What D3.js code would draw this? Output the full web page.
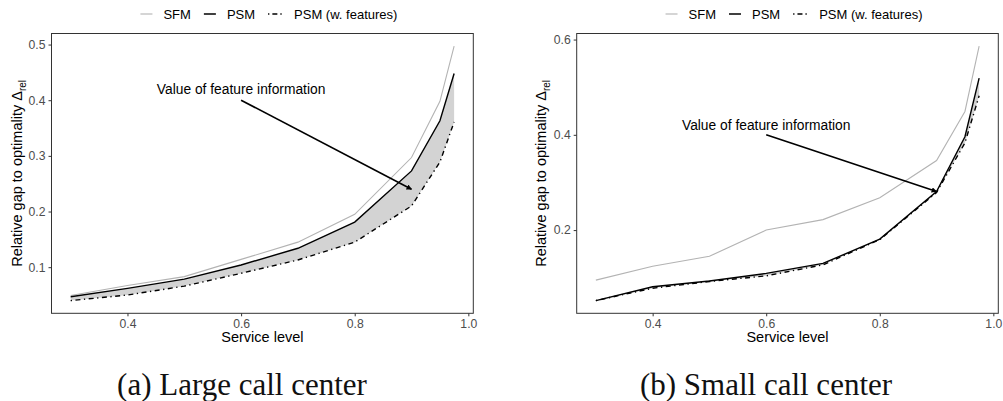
<!DOCTYPE html>
<html>
<head>
<meta charset="utf-8">
<style>
body { margin: 0; background: #fff; }
text { font-family: "Liberation Sans", Arial, sans-serif; }
.tick text { fill: #4d4d4d; font-size: 12.2px; }
.tick line { stroke: #333; }
.caption { font-family: "Liberation Serif", "Times New Roman", serif; font-size: 31px; fill: #111; }
</style>
<title>Relative gap to optimality</title>
</head>
<body>
<script src="https://cdn.jsdelivr.net/npm/d3@7"></script>
<script>

// service levels (x values) shared by both panels
const serviceLevels = [0.3, 0.4, 0.5, 0.6, 0.7, 0.8, 0.9, 0.95, 0.975];

// (a) large call center
const largeSFM     = [0.049, 0.067, 0.083, 0.114, 0.145, 0.195, 0.297, 0.398, 0.497];
const largePSM     = [0.047, 0.062, 0.0785, 0.104, 0.134, 0.181, 0.273, 0.363, 0.448];
const largePSMFeat = [0.040, 0.050, 0.066, 0.089, 0.113, 0.145, 0.210, 0.289, 0.361];

// (b) small call center
const smallSFM     = [0.095, 0.124, 0.145, 0.200, 0.222, 0.268, 0.346, 0.449, 0.586];
const smallPSM     = [0.052, 0.081, 0.093, 0.109, 0.130, 0.181, 0.281, 0.396, 0.519];
const smallPSMFeat = [0.052, 0.078, 0.092, 0.104, 0.127, 0.180, 0.279, 0.383, 0.482];

const xTicks = [0.4, 0.6, 0.8, 1.0];
const largeYTicks = [0.1, 0.2, 0.3, 0.4, 0.5];
const smallYTicks = [0.2, 0.4, 0.6];

const legendLabels = ["SFM", "PSM", "PSM (w. features)"];
const captions = ["(a) Large call center", "(b) Small call center"];
const noteText = "Value of feature information";
// annotation: label at (0.6, 0.42), arrow from (0.6, 0.40) to (0.9, y)
const noteArrowEnd = [0.24, 0.281];

const W = 1003, H = 401;

const svg = d3.select("body").append("svg")
    .attr("width", W)
    .attr("height", H);

svg.append("defs").append("marker")
    .attr("id", "arrowhead")
    .attr("viewBox", "0 0 10 10")
    .attr("refX", 9).attr("refY", 5)
    .attr("markerWidth", 5.5).attr("markerHeight", 5.5)
    .attr("markerUnits", "userSpaceOnUse")
    .attr("orient", "auto")
  .append("path")
    .attr("d", "M0,0 L10,5 L0,10 z")
    .attr("fill", "#000");

// ggplot-like 5% expansion of the data range
function expand(vals) {
  const lo = d3.min(vals), hi = d3.max(vals), pad = (hi - lo) * 0.05;
  return [lo - pad, hi + pad];
}

function drawPanel(opt) {
  const {left, right, top, bottom} = opt;
  const x = d3.scaleLinear().domain(expand(serviceLevels)).range([left, right]);
  const y = d3.scaleLinear()
      .domain(expand(opt.sfm.concat(opt.psm, opt.feat)))
      .range([bottom, top]);

  const g = svg.append("g");

  const rows = serviceLevels.map((s, i) => ({s, sfm: opt.sfm[i], psm: opt.psm[i], feat: opt.feat[i]}));

  // ribbon between PSM and PSM (w. features)
  g.append("path")
      .datum(rows)
      .attr("fill", "#d3d3d3")
      .attr("d", d3.area().x(d => x(d.s)).y0(d => y(d.feat)).y1(d => y(d.psm)));

  const line = key => d3.line().x(d => x(d.s)).y(d => y(d[key]));

  g.append("path").datum(rows)
      .attr("fill", "none").attr("stroke", "#b3b3b3").attr("stroke-width", 1.1)
      .attr("d", line("sfm"));
  g.append("path").datum(rows)
      .attr("fill", "none").attr("stroke", "#000").attr("stroke-width", 1.4)
      .attr("d", line("psm"));
  g.append("path").datum(rows)
      .attr("fill", "none").attr("stroke", "#000").attr("stroke-width", 1.4)
      .attr("stroke-dasharray", "1.3,3.5,5,3.5")
      .attr("d", line("feat"));

  // annotation
  g.append("text")
      .attr("x", x(0.6)).attr("y", y(0.42))
      .attr("dy", "0.35em")
      .attr("text-anchor", "middle")
      .style("font-size", "13.8px")
      .attr("fill", "#000")
      .text(noteText);
  g.append("line")
      .attr("x1", x(0.6)).attr("y1", y(0.40))
      .attr("x2", x(0.9)).attr("y2", y(opt.arrowEnd))
      .attr("stroke", "#000").attr("stroke-width", 1.6)
      .attr("marker-end", "url(#arrowhead)");

  // panel border
  g.append("rect")
      .attr("x", left).attr("y", top)
      .attr("width", right - left).attr("height", bottom - top)
      .attr("fill", "none").attr("stroke", "#333").attr("stroke-width", 1);

  // axes
  const xAxis = g.append("g")
      .attr("transform", "translate(0," + bottom + ")")
      .call(d3.axisBottom(x).tickValues(xTicks).tickFormat(d3.format(".1f")).tickSize(3).tickPadding(3));
  xAxis.select(".domain").remove();

  const yAxis = g.append("g")
      .attr("transform", "translate(" + left + ",0)")
      .call(d3.axisLeft(y).tickValues(opt.yTicks).tickFormat(d3.format(".1f")).tickSize(3).tickPadding(3));
  yAxis.select(".domain").remove();

  // axis titles
  g.append("text")
      .attr("x", (left + right) / 2).attr("y", bottom + 29)
      .attr("text-anchor", "middle")
      .style("font-size", "14.5px")
      .text("Service level");

  const yt = g.append("text")
      .attr("transform", "translate(" + opt.yTitleX + "," + ((top + bottom) / 2) + ") rotate(-90)")
      .attr("text-anchor", "middle")
      .style("font-size", "14.5px");
  yt.append("tspan").text("Relative gap to optimality \u0394");
  yt.append("tspan").attr("dy", 4).style("font-size", "10px").text("rel");

  // legend
  const lg = g.append("g");
  const styles = [
    {stroke: "#b3b3b3", dash: null, w: 1.1},
    {stroke: "#000", dash: null, w: 1.5},
    {stroke: "#000", dash: "1.3,3,5,3", w: 1.3}
  ];
  let cx = 0;
  legendLabels.forEach((lab, i) => {
    const s = styles[i];
    lg.append("line")
        .attr("x1", cx).attr("x2", cx + (i === 2 ? 15 : 12))
        .attr("y1", 0).attr("y2", 0)
        .attr("stroke", s.stroke).attr("stroke-width", s.w)
        .attr("stroke-dasharray", s.dash);
    cx += (i === 2 ? 15 : 12) + 11;
    const t = lg.append("text")
        .attr("x", cx).attr("y", 0).attr("dy", "0.35em")
        .style("font-size", "13px")
        .text(lab);
    cx += t.node().getComputedTextLength() + 13;
  });
  cx -= 13;
  lg.attr("transform", "translate(" + ((left + right) / 2 + 6.5 - cx / 2) + ",14)");

  // caption
  g.append("text")
      .attr("class", "caption")
      .attr("x", opt.captionX).attr("y", 395)
      .attr("text-anchor", "middle")
      .text(opt.caption);
}

drawPanel({
  left: 51.5, right: 473.3, top: 33.5, bottom: 313.3,
  sfm: largeSFM, psm: largePSM, feat: largePSMFeat,
  yTicks: largeYTicks, arrowEnd: noteArrowEnd[0],
  yTitleX: 22, caption: captions[0], captionX: 242
});

drawPanel({
  left: 576.7, right: 998.3, top: 33.5, bottom: 313.3,
  sfm: smallSFM, psm: smallPSM, feat: smallPSMFeat,
  yTicks: smallYTicks, arrowEnd: noteArrowEnd[1],
  yTitleX: 546, caption: captions[1], captionX: 766
});

</script>
</body>
</html>
